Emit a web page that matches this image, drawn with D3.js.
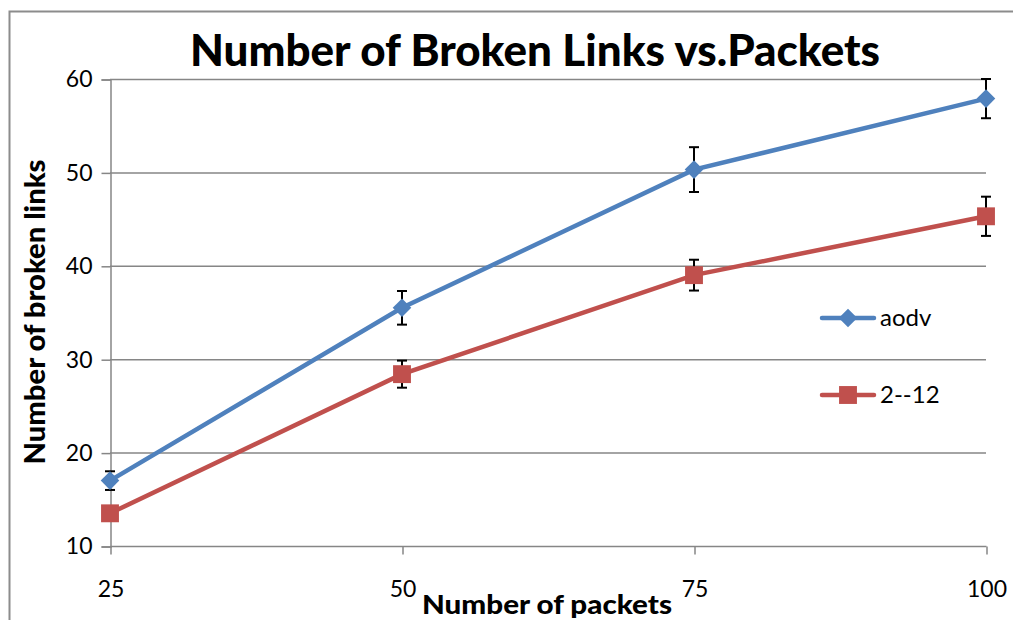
<!DOCTYPE html>
<html><head><meta charset="utf-8">
<script src="https://cdn.jsdelivr.net/npm/d3@7"></script>
<style>body{margin:0;background:#fff}svg{display:block}text{font-family:Lato,"Open Sans",sans-serif}</style>
</head><body>
<svg id="c" width="1013" height="620"></svg>
<script>
const categories = ["25","50","75","100"];
const aodvValues = [17.0, 35.5, 50.3, 57.9];
const aodvErrors = [1.0, 1.8, 2.4, 2.1];
const r212Values = [13.5, 28.4, 39.0, 45.3];
const r212Errors = [0.7, 1.45, 1.65, 2.1];
const yTicks = [10, 20, 30, 40, 50, 60];
const seriesNames = ["aodv", "2--12"];

const svg = d3.select("#c");
const blue = "#4F81BD", red = "#C0504D", axisCol = "#868686";

// outer chart border
svg.append("path").attr("d", "M9.5,620 V11.5 H1013").attr("fill","none").attr("stroke","#8c8c8c").attr("stroke-width",2);

const x = d3.scalePoint().domain(categories).range([110, 986]);
const y = d3.scaleLinear().domain([10, 60]).range([546, 79]);

// gridlines
svg.append("g").selectAll("line").data(yTicks.slice(1)).join("line")
  .attr("x1", 110).attr("x2", 986).attr("y1", d => y(d)+0.5).attr("y2", d => y(d)+0.5)
  .attr("stroke", axisCol).attr("stroke-width", 1.5);

// y axis
const ya = svg.append("g").attr("transform","translate(110.5,0.5)")
  .call(d3.axisLeft(y).tickValues(yTicks).tickSize(9).tickPadding(9));
ya.select(".domain").attr("stroke", axisCol).attr("stroke-width",1.5);
ya.selectAll(".tick line").attr("stroke", axisCol).attr("stroke-width",1.5);
ya.selectAll("text").attr("font-size", 23).attr("fill","#000").style("font-family","Lato,sans-serif");

// x axis
const xa = svg.append("g").attr("transform","translate(0.5,546.5)")
  .call(d3.axisBottom(x).tickSize(8).tickPadding(26).tickSizeOuter(0));
xa.select(".domain").attr("stroke", axisCol).attr("stroke-width",1.5).attr("d","M110,0H986");
xa.selectAll(".tick line").attr("stroke", axisCol).attr("stroke-width",1.5);
xa.selectAll("text").attr("font-size", 23).attr("fill","#000").style("font-family","Lato,sans-serif");

// title
svg.append("text").attr("x", 535).attr("y", 66).attr("text-anchor","middle")
  .attr("font-size", 43).attr("font-weight",900).attr("textLength",690).attr("lengthAdjust","spacingAndGlyphs")
  .text("Number of Broken Links vs.Packets");
// axis titles
svg.append("text").attr("x", 547).attr("y", 614).attr("text-anchor","middle")
  .attr("font-size", 27).attr("font-weight",900).attr("textLength",250).attr("lengthAdjust","spacingAndGlyphs")
  .text("Number of packets");
svg.append("text").attr("transform","translate(45,312) rotate(-90)").attr("text-anchor","middle")
  .attr("font-size", 28).attr("font-weight",900).attr("textLength",305).attr("lengthAdjust","spacingAndGlyphs")
  .text("Number of broken links");

const line = d3.line().x((d,i)=>x(categories[i])).y(d=>y(d));

function errorBars(vals, errs){
  const g = svg.append("g").attr("stroke","#000").attr("stroke-width",2);
  vals.forEach((v,i)=>{
    const cx = x(categories[i]);
    g.append("line").attr("x1",cx).attr("x2",cx).attr("y1",y(v+errs[i])).attr("y2",y(v-errs[i]));
    [v+errs[i], v-errs[i]].forEach(e=>g.append("line").attr("x1",cx-5).attr("x2",cx+5).attr("y1",y(e)).attr("y2",y(e)));
  });
}
errorBars(aodvValues, aodvErrors);
errorBars(r212Values, r212Errors);

svg.append("path").datum(r212Values).attr("d", line).attr("fill","none").attr("stroke",red).attr("stroke-width",4.5).attr("stroke-linecap","round");
svg.append("path").datum(aodvValues).attr("d", line).attr("fill","none").attr("stroke",blue).attr("stroke-width",4.5).attr("stroke-linecap","round");

const diamond = d3.symbol().type(d3.symbolDiamond2).size(220);
const square = d3.symbol().type(d3.symbolSquare).size(320);
svg.append("g").selectAll("path").data(aodvValues).join("path")
  .attr("transform",(d,i)=>`translate(${x(categories[i])},${y(d)})`).attr("d", diamond).attr("fill",blue);
svg.append("g").selectAll("path").data(r212Values).join("path")
  .attr("transform",(d,i)=>`translate(${x(categories[i])},${y(d)})`).attr("d", square).attr("fill",red);

// legend
const leg = [{name:seriesNames[0], c:blue, sym:diamond, y:318},{name:seriesNames[1], c:red, sym:square, y:395}];
leg.forEach(l=>{
  svg.append("line").attr("x1",822).attr("x2",874).attr("y1",l.y).attr("y2",l.y).attr("stroke",l.c).attr("stroke-width",4.5).attr("stroke-linecap","round");
  svg.append("path").attr("transform",`translate(848,${l.y})`).attr("d",l.sym).attr("fill",l.c);
  svg.append("text").attr("x",880).attr("y",l.y+8).attr("font-size",24).text(l.name);
});
</script>
</body></html>
